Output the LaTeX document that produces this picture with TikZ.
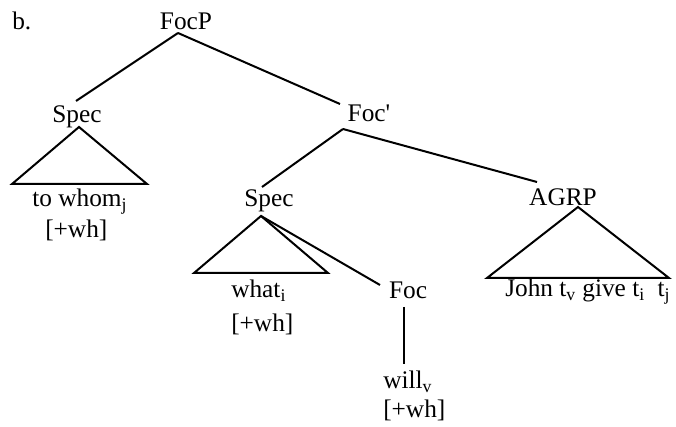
\documentclass[tikz,border=0pt]{standalone}
\usepackage{fontspec}
\setmainfont{Liberation Serif}
\begin{document}
\begin{tikzpicture}[x=0.75pt,y=-0.75pt,
  lbl/.style={inner sep=0pt,anchor=base,font=\fontsize{19}{22}\selectfont},
  lblw/.style={lbl,anchor=base west},
  edge/.style={line width=1.5pt,line join=miter}]
\useasboundingbox (0,0) rectangle (676,427);

% labels of the tree
\node[lblw] (ex) at (12,30) {b.};
\node[lbl] (focp) at (186,30) {FocP};
\node[lbl] (specL) at (77,123) {Spec};
\node[lbl] (focbar) at (369,122) {Foc\textquotesingle};
\node[lbl] (specM) at (269,207) {Spec};
\node[lbl] (agrp) at (563,206) {AGRP};
\node[lbl] (foc) at (408,299) {Foc};

% terminal strings
\node[lblw] (towhom) at (32,207) {to whom\textsubscript{j}};
\node[lblw] (whL) at (45,238) {[+wh]};
\node[lblw] (what) at (231,298) {what\textsubscript{i}};
\node[lblw] (whM) at (231,332) {[+wh]};
\node[lblw] (will) at (383,389) {will\textsubscript{v}};
\node[lblw] (whR) at (383,418) {[+wh]};
\node[lblw] (john) at (505,297) {John t\textsubscript{v} give t\textsubscript{i}\ \ t\textsubscript{j}};

% branches
\draw[edge] ([shift={(-8,3)}]focp.base) -- ([shift={(-1,-22)}]specL.base);
\draw[edge] ([shift={(-8,3)}]focp.base) -- ([shift={(-29,-18)}]focbar.base);
\draw[edge] ([shift={(-26,7)}]focbar.base) -- ([shift={(-7,-20)}]specM.base);
\draw[edge] ([shift={(-26,7)}]focbar.base) -- ([shift={(-26,-24)}]agrp.base);
\draw[edge] ([shift={(-8,9)}]specM.base) -- ([shift={(-28,-14)}]foc.base);
\draw[edge] ([shift={(-4,8)}]foc.base) -- ([shift={(21,-25)}]will.base west);

% triangles
\draw[edge] ([shift={(2,4)}]specL.base) -- (12,184) -- (147,184) -- cycle;
\draw[edge] ([shift={(-8,9)}]specM.base) -- (194,273) -- (328,273) -- cycle;
\draw[edge] ([shift={(15,1)}]agrp.base) -- (487,278) -- (669,278) -- cycle;
\end{tikzpicture}
\end{document}
